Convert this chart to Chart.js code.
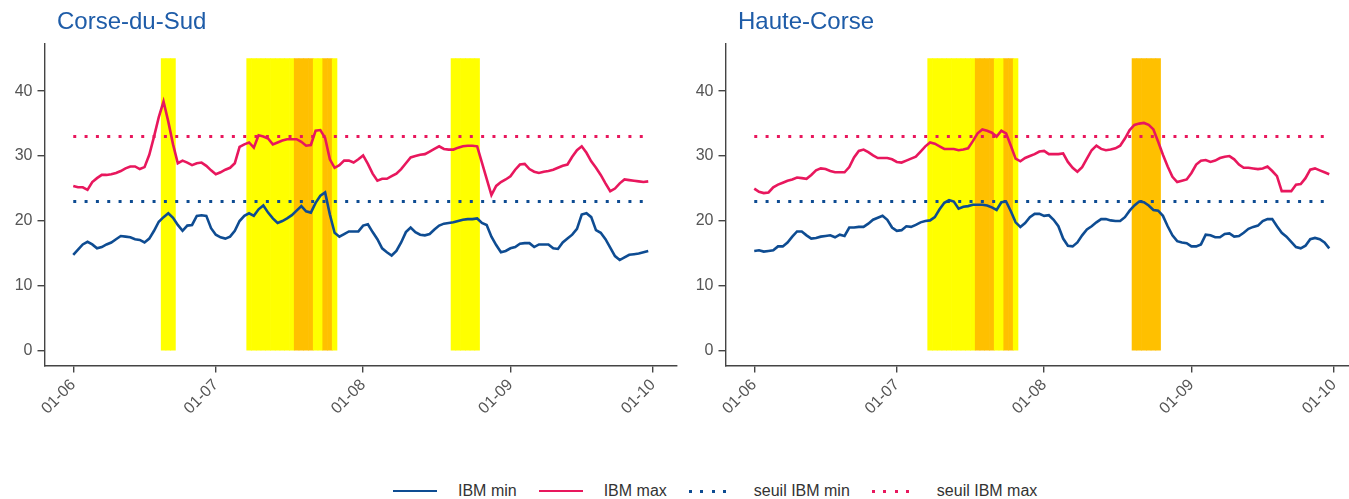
<!DOCTYPE html>
<html>
<head>
<meta charset="utf-8">
<script src="https://cdn.jsdelivr.net/npm/chart.js@4.4.1/dist/chart.umd.min.js"></script>
<style>
    html, body { margin: 0; padding: 0; overflow: hidden; background: #fff; }
    #page { position: relative; width: 1349px; height: 499px; overflow: hidden; }
    #page canvas { position: absolute; top: 0; }
    #sud { left: 0; }
    #haute { left: 681px; }
    #legende {
        position: absolute; top: 481px; left: 393px; height: 20px;
        display: flex; align-items: center; gap: 22px;
        font: 16px "Liberation Sans", Arial, sans-serif; color: #333;
    }
    #legende .item { display: flex; align-items: center; gap: 21px; white-space: nowrap; }
    #legende .trait { width: 44px; height: 2.6px; }
</style>
</head>
<body>
<div id="page">
    <canvas id="sud" width="680" height="440"></canvas>
    <canvas id="haute" width="680" height="440"></canvas>
    <div id="legende"></div>
</div>
<script>
// jours comptés depuis le 01-06 (0 = 1er juin, 121 = 30 septembre)
const tickJours = [0, 30, 61, 92, 122];
const tickLabels = ['01-06', '01-07', '01-08', '01-09', '01-10'];
const ticksY = [0, 10, 20, 30, 40];

const seuilIbmMin = 23;
const seuilIbmMax = 33;
const hautBande = 45;

// Corse-du-Sud
const ibmMinSud = [
    14.8, 15.6, 16.4, 16.8, 16.4, 15.8, 16.0, 16.4, 16.7, 17.2,
    17.7, 17.6, 17.5, 17.2, 17.1, 16.7, 17.3, 18.5, 19.9, 20.6,
    21.2, 20.5, 19.4, 18.5, 19.3, 19.4, 20.8, 20.9, 20.8, 18.9,
    17.9, 17.5, 17.3, 17.6, 18.5, 20.0, 20.8, 21.2, 20.8, 21.8,
    22.4, 21.3, 20.4, 19.7, 20.0, 20.4, 20.9, 21.6, 22.3, 21.5,
    21.3, 22.8, 23.9, 24.4, 21.0, 18.2, 17.6, 18.0, 18.4, 18.4,
    18.4, 19.3, 19.5, 18.3, 17.2, 15.8, 15.2, 14.7, 15.4, 16.7,
    18.3, 19.0, 18.3, 17.9, 17.8, 18.0, 18.7, 19.3, 19.6, 19.7,
    19.8, 20.0, 20.2, 20.3, 20.3, 20.4, 19.7, 19.4, 17.6, 16.3,
    15.2, 15.4, 15.8, 16.0, 16.5, 16.6, 16.6, 16.0, 16.4, 16.4,
    16.4, 15.8, 15.7, 16.7, 17.3, 17.9, 18.8, 21.0, 21.2, 20.6,
    18.6, 18.2, 17.2, 15.9, 14.6, 14.0, 14.4, 14.8, 14.9, 15.0,
    15.2, 15.4
];
const ibmMaxSud = [
    25.4, 25.2, 25.2, 24.8, 26.0, 26.6, 27.1, 27.1, 27.2, 27.4,
    27.7, 28.1, 28.4, 28.4, 28.0, 28.3, 30.2, 33.0, 36.0, 38.4,
    35.3, 31.8, 28.9, 29.3, 29.0, 28.6, 28.9, 29.0, 28.5, 27.8,
    27.2, 27.5, 27.9, 28.2, 28.9, 31.4, 31.8, 32.1, 31.3, 33.2,
    33.0, 32.7, 31.8, 32.1, 32.4, 32.6, 32.6, 32.6, 32.2, 31.6,
    31.7, 33.9, 34.0, 32.8, 29.5, 28.2, 28.6, 29.3, 29.3, 29.0,
    29.5, 30.1, 28.8, 27.3, 26.2, 26.5, 26.5, 26.9, 27.3, 28.0,
    28.9, 29.8, 30.0, 30.2, 30.3, 30.7, 31.1, 31.5, 31.1, 31.0,
    31.0, 31.3, 31.5, 31.6, 31.6, 31.5, 29.0, 26.5, 24.0, 25.4,
    26.0, 26.4, 26.9, 27.9, 28.7, 28.8, 28.0, 27.6, 27.4, 27.6,
    27.7, 27.9, 28.2, 28.5, 28.7, 29.9, 30.9, 31.5, 30.5, 29.2,
    28.2, 27.1, 25.8, 24.6, 25.0, 25.8, 26.4, 26.3, 26.2, 26.1,
    26.0, 26.1
];
// [premier jour, dernier jour, niveau] 1 = jaune, 2 = orange
const vigilanceSud = [[19, 21, 1], [37, 46, 1], [47, 50, 2], [51, 52, 1], [53, 54, 2], [55, 55, 1], [80, 85, 1]];

// Haute-Corse
const ibmMinHaute = [
    15.4, 15.5, 15.3, 15.4, 15.5, 16.1, 16.1, 16.7, 17.6, 18.4,
    18.4, 17.8, 17.3, 17.4, 17.6, 17.7, 17.8, 17.5, 17.9, 17.7,
    19.0, 19.0, 19.1, 19.1, 19.6, 20.2, 20.5, 20.8, 20.2, 19.0,
    18.5, 18.6, 19.2, 19.1, 19.4, 19.8, 20.0, 20.1, 20.6, 21.8,
    22.8, 23.2, 23.0, 21.9, 22.2, 22.3, 22.5, 22.5, 22.5, 22.4,
    22.1, 21.7, 22.9, 23.0, 21.5, 19.8, 19.1, 19.7, 20.6, 21.1,
    21.1, 20.8, 20.9, 20.2, 19.2, 17.3, 16.2, 16.1, 16.7, 17.8,
    18.7, 19.2, 19.8, 20.3, 20.3, 20.1, 20.0, 20.0, 20.6, 21.6,
    22.4, 23.0, 22.9, 22.4, 21.7, 21.6, 20.8, 19.2, 17.8, 16.9,
    16.7, 16.6, 16.1, 16.1, 16.4, 17.9, 17.8, 17.5, 17.5, 18.0,
    18.1, 17.6, 17.7, 18.2, 18.8, 19.1, 19.3, 20.0, 20.3, 20.3,
    19.2, 18.2, 17.6, 16.8, 16.0, 15.8, 16.2, 17.2, 17.4, 17.2,
    16.7, 15.8
];
const ibmMaxHaute = [
    25.0, 24.5, 24.3, 24.4, 25.2, 25.6, 25.9, 26.2, 26.4, 26.7,
    26.6, 26.5, 27.1, 27.8, 28.1, 28.0, 27.7, 27.5, 27.5, 27.5,
    28.3, 29.8, 30.8, 31.0, 30.6, 30.1, 29.7, 29.7, 29.7, 29.5,
    29.1, 29.0, 29.3, 29.6, 29.9, 30.7, 31.5, 32.1, 31.9, 31.5,
    31.1, 31.1, 31.1, 30.9, 31.0, 31.2, 32.3, 33.5, 34.1, 33.9,
    33.6, 33.0, 33.9, 33.5, 31.6, 29.6, 29.2, 29.7, 30.0, 30.3,
    30.7, 30.8, 30.3, 30.3, 30.3, 30.4, 29.1, 28.2, 27.6, 28.3,
    29.6, 30.9, 31.6, 31.1, 30.9, 31.0, 31.2, 31.6, 32.7, 34.0,
    34.8, 35.0, 35.1, 34.8, 34.1, 32.2, 30.2, 28.4, 26.8, 26.0,
    26.2, 26.4, 27.4, 28.7, 29.3, 29.4, 29.1, 29.3, 29.7, 29.9,
    30.0, 29.5, 28.7, 28.2, 28.2, 28.1, 28.0, 28.1, 28.4, 27.7,
    26.9, 24.6, 24.6, 24.6, 25.6, 25.7, 26.6, 27.9, 28.1, 27.8,
    27.5, 27.2
];
const vigilanceHaute = [[37, 46, 1], [47, 50, 2], [51, 52, 1], [53, 54, 2], [55, 55, 1], [80, 85, 2]];

const couleurMin = '#0E4C92';
const couleurMax = '#E8175D';
const couleurTitre = '#1E5CA8';
const couleursVigilance = { 1: '#FFFF00', 2: '#FFC000' };
const police = '"Liberation Sans", Arial, sans-serif';

const series = [
    { label: 'IBM min', color: couleurMin, dotted: false },
    { label: 'IBM max', color: couleurMax, dotted: false },
    { label: 'seuil IBM min', color: couleurMin, dotted: true },
    { label: 'seuil IBM max', color: couleurMax, dotted: true }
];

// titre du panneau, aligné sur la zone de tracé
const titrePanneau = {
    id: 'titrePanneau',
    afterDraw(chart, args, opts) {
        const ctx = chart.ctx;
        ctx.save();
        ctx.font = `24px ${police}`;
        ctx.fillStyle = couleurTitre;
        ctx.textBaseline = 'middle';
        ctx.fillText(opts.text, chart.chartArea.left + 12.5, 22);
        ctx.restore();
    }
};

function construireGraphique(elementId, titre, ibmMin, ibmMax, vigilance) {
    const bandes = [];
    vigilance.forEach(([debut, fin, niveau]) => {
        for (let j = debut; j <= fin; j++) bandes.push({ x: j, y: hautBande, niveau: niveau });
    });
    const dernierJour = ibmMin.length - 1;
    const bord = { display: true, color: '#444', width: 1.4 };
    const grille = { display: true, offset: false, drawOnChartArea: false, drawTicks: true, tickLength: 7, color: '#444', lineWidth: 1.4 };

    new Chart(document.getElementById(elementId).getContext('2d'), {
        type: 'line',
        data: {
            datasets: [
                {
                    label: series[0].label,
                    data: ibmMin.map((v, i) => ({ x: i, y: v })),
                    borderColor: series[0].color,
                    borderWidth: 2.6,
                    pointRadius: 0,
                    tension: 0,
                    order: 0
                },
                {
                    label: series[1].label,
                    data: ibmMax.map((v, i) => ({ x: i, y: v })),
                    borderColor: series[1].color,
                    borderWidth: 2.6,
                    pointRadius: 0,
                    tension: 0,
                    order: 0
                },
                {
                    label: series[2].label,
                    data: [{ x: 0, y: seuilIbmMin }, { x: dernierJour, y: seuilIbmMin }],
                    borderColor: series[2].color,
                    borderWidth: 3,
                    borderDash: [3, 8.33],
                    pointRadius: 0,
                    order: 1
                },
                {
                    label: series[3].label,
                    data: [{ x: 0, y: seuilIbmMax }, { x: dernierJour, y: seuilIbmMax }],
                    borderColor: series[3].color,
                    borderWidth: 3,
                    borderDash: [3, 8.33],
                    pointRadius: 0,
                    order: 1
                },
                {
                    type: 'bar',
                    label: 'vigilance',
                    data: bandes,
                    backgroundColor: bandes.map(b => couleursVigilance[b.niveau]),
                    borderWidth: 0,
                    barPercentage: 1,
                    categoryPercentage: 1,
                    order: 10
                }
            ]
        },
        options: {
            responsive: false,
            animation: false,
            layout: { padding: { top: 44, right: 3, left: 0, bottom: 0 } },
            scales: {
                x: {
                    type: 'linear',
                    offset: false,
                    min: -6.05,
                    max: 127.05,
                    border: bord,
                    grid: grille,
                    afterBuildTicks: s => { s.ticks = tickJours.map(v => ({ value: v })); },
                    afterFit: s => { s.height = 74.4; },
                    ticks: {
                        minRotation: 45,
                        maxRotation: 45,
                        padding: 3,
                        color: '#555',
                        font: { family: police, size: 16 },
                        callback: v => tickLabels[tickJours.indexOf(v)]
                    }
                },
                y: {
                    min: -2.25,
                    max: 47.25,
                    border: bord,
                    grid: grille,
                    afterBuildTicks: s => { s.ticks = ticksY.map(v => ({ value: v })); },
                    afterFit: s => { s.width = 44.5; },
                    ticks: {
                        padding: 5,
                        color: '#555',
                        font: { family: police, size: 16 }
                    }
                }
            },
            plugins: {
                legend: { display: false },
                tooltip: { enabled: false },
                titrePanneau: { text: titre }
            }
        },
        plugins: [titrePanneau]
    });
}

construireGraphique('sud', 'Corse-du-Sud', ibmMinSud, ibmMaxSud, vigilanceSud);
construireGraphique('haute', 'Haute-Corse', ibmMinHaute, ibmMaxHaute, vigilanceHaute);

// légende commune en bas
const legende = document.getElementById('legende');
series.forEach(s => {
    const item = document.createElement('div');
    item.className = 'item';
    const trait = document.createElement('span');
    trait.className = 'trait';
    trait.style.background = s.dotted
        ? `repeating-linear-gradient(to right, ${s.color} 0 3px, transparent 3px 11.33px)`
        : s.color;
    if (s.dotted) trait.style.height = '3px';
    const texte = document.createElement('span');
    texte.textContent = s.label;
    item.appendChild(trait);
    item.appendChild(texte);
    legende.appendChild(item);
});
</script>
</body>
</html>
